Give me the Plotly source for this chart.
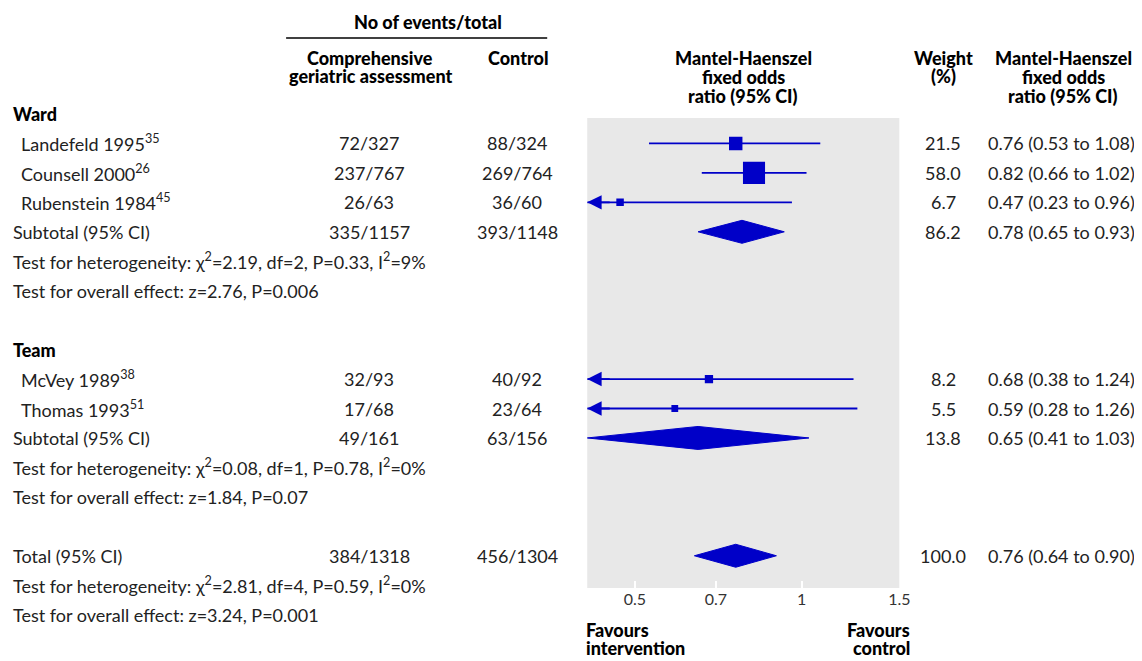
import numpy as np
import plotly.graph_objects as go

# row index of each line in the table (0 = "Ward" header)
group_labels = ["Ward", "Team"]
group_rows = [0, 8]

study_labels = ["Landefeld 1995<sup>35</sup>", "Counsell 2000<sup>26</sup>",
                "Rubenstein 1984<sup>45</sup>", "McVey 1989<sup>38</sup>",
                "Thomas 1993<sup>51</sup>"]
study_rows = [1, 2, 3, 9, 10]
study_cga = ["72/327", "237/767", "26/63", "32/93", "17/68"]
study_control = ["88/324", "269/764", "36/60", "40/92", "23/64"]
study_weight = [21.5, 58.0, 6.7, 8.2, 5.5]
study_or = [0.76, 0.82, 0.47, 0.68, 0.59]
study_lo = [0.53, 0.66, 0.23, 0.38, 0.28]
study_hi = [1.08, 1.02, 0.96, 1.24, 1.26]

pooled_labels = ["Subtotal (95% CI)", "Subtotal (95% CI)", "Total (95% CI)"]
pooled_rows = [4, 11, 15]
pooled_cga = ["335/1157", "49/161", "384/1318"]
pooled_control = ["393/1148", "63/156", "456/1304"]
pooled_weight = [86.2, 13.8, 100.0]
pooled_or = [0.78, 0.65, 0.76]
pooled_lo = [0.65, 0.41, 0.64]
pooled_hi = [0.93, 1.03, 0.90]

het_rows = [5, 12, 16]
het_chi2 = ["2.19", "0.08", "2.81"]
het_df = [2, 1, 4]
het_p = ["0.33", "0.78", "0.59"]
het_i2 = ["9", "0", "0"]

effect_rows = [6, 13, 17]
effect_z = ["2.76", "1.84", "3.24"]
effect_p = ["0.006", "0.07", "0.001"]

tick_vals = [0.5, 0.7, 1, 1.5]
tick_text = ["0.5", "0.7", "1", "1.5"]
x_min, x_max = 0.41, 1.5
null_value = 1

BLUE = "#0000c8"
TXT = "#222222"
FONT = "Lato"
W, H = 1142, 661

# page placement of the figure (body margin etc.), measured from a test render
X0, XS, Y0 = 9, 0.99, 8

# target page pixels of the layout
ROW0, ROW_PX = 114, 29.45
PLOT_TOP, PLOT_BOTTOM = 118, 588
PLOT_LEFT, PLOT_RIGHT = 588, 900

fig = go.Figure()


def px_x(p):
    return ((p - X0) / XS) / W


def px_y(p):
    return 1 - (p - Y0) / H


def row_at(p):
    return (p - ROW0) / ROW_PX


# grey panel and line of no effect
fig.add_shape(type="rect", xref="x domain", yref="y", x0=0, x1=1,
              y0=row_at(PLOT_TOP), y1=row_at(PLOT_BOTTOM),
              fillcolor="#e8e8e8", line=dict(width=0), layer="below")
fig.add_shape(type="line", xref="x", yref="y", x0=np.log10(null_value),
              x1=np.log10(null_value), y0=row_at(PLOT_TOP), y1=row_at(PLOT_BOTTOM),
              line=dict(color=BLUE, width=1.2))

# confidence interval lines, clipped to the axis range
for r, lo, hi in zip(study_rows, study_lo, study_hi):
    fig.add_trace(go.Scatter(x=[max(lo, x_min), min(hi, x_max)], y=[r, r], mode="lines",
                             line=dict(color=BLUE, width=1.8), hoverinfo="skip"))
    if lo < x_min:
        fig.add_annotation(x=np.log10(x_min), y=r, xref="x", yref="y", ax=24, ay=0,
                           text="", showarrow=True, arrowhead=2, arrowsize=1.6,
                           arrowwidth=1.8, arrowcolor=BLUE)

# study squares, size from weight
fig.add_trace(go.Scatter(x=study_or, y=study_rows, mode="markers",
                         marker=dict(symbol="square", color=BLUE, opacity=1,
                                     size=[2.9 * np.sqrt(w) for w in study_weight],
                                     line=dict(width=0)),
                         hoverinfo="x"))

# pooled diamonds
half = 0.39
for r, est, lo, hi in zip(pooled_rows, pooled_or, pooled_lo, pooled_hi):
    fig.add_trace(go.Scatter(x=[lo, est, hi, est, lo], y=[r, r - half, r, r + half, r],
                             mode="lines", fill="toself", fillcolor=BLUE,
                             line=dict(color=BLUE, width=1), hoverinfo="skip"))


def txt(x, y, text, anchor="center", bold=False, yref="y", size=18, color=TXT):
    fig.add_annotation(x=x, y=y, xref="paper", yref=yref, text=text, showarrow=False,
                       xanchor=anchor, yanchor="middle", align=anchor,
                       font=dict(family=FONT, size=size, color=color,
                                 weight=900 if bold else "normal"))


def head(x, ys, lines, anchor="center"):
    for y, line in zip(ys, lines):
        txt(px_x(x), px_y(y), line, anchor, bold=True, yref="paper", color="black")


LABEL_X = px_x(12)
INDENT_X = px_x(20)
CGA_X = px_x(370)
CTRL_X = px_x(518)
WEIGHT_X = px_x(944)
OR_X = px_x(987)

for r, lab in zip(group_rows, group_labels):
    txt(LABEL_X, r, lab, "left", bold=True, color="black")

for i, r in enumerate(study_rows):
    txt(INDENT_X, r, study_labels[i], "left")
    txt(CGA_X, r, study_cga[i])
    txt(CTRL_X, r, study_control[i])
    txt(WEIGHT_X, r, f"{study_weight[i]:.1f}")
    txt(OR_X, r, f"{study_or[i]:.2f} ({study_lo[i]:.2f} to {study_hi[i]:.2f})", "left")

for i, r in enumerate(pooled_rows):
    txt(LABEL_X, r, pooled_labels[i], "left")
    txt(CGA_X, r, pooled_cga[i])
    txt(CTRL_X, r, pooled_control[i])
    txt(WEIGHT_X, r, f"{pooled_weight[i]:.1f}")
    txt(OR_X, r, f"{pooled_or[i]:.2f} ({pooled_lo[i]:.2f} to {pooled_hi[i]:.2f})", "left")

for i, r in enumerate(het_rows):
    txt(LABEL_X, r, f"Test for heterogeneity: χ<sup>2</sup>={het_chi2[i]}, df={het_df[i]}, "
                    f"P={het_p[i]}, I<sup>2</sup>={het_i2[i]}%", "left")

for i, r in enumerate(effect_rows):
    txt(LABEL_X, r, f"Test for overall effect: z={effect_z[i]}, P={effect_p[i]}", "left")

# column headers
head(429, [22], ["No of events/total"])
fig.add_shape(type="line", xref="paper", yref="paper", x0=px_x(287), x1=px_x(548),
              y0=px_y(38), y1=px_y(38), line=dict(color="black", width=1.5))
head(371, [58, 76], ["Comprehensive", "geriatric assessment"])
head(519, [58], ["Control"])
head(744, [58, 77, 96], ["Mantel-Haenszel", "fixed odds", "ratio (95% CI)"])
head(944, [58, 76], ["Weight", "(%)"])
head(1064, [58, 77, 96], ["Mantel-Haenszel", "fixed odds", "ratio (95% CI)"])
head(585, [630, 648], ["Favours", "intervention"], "left")
head(913, [630, 648], ["Favours", "control"], "right")

fig.update_layout(
    width=W, height=H,
    margin=dict(l=0, r=0, t=0, b=0),
    paper_bgcolor="white",
    plot_bgcolor="white",
    showlegend=False,
    font=dict(family=FONT, color=TXT),
    xaxis=dict(type="log", domain=[px_x(PLOT_LEFT), px_x(PLOT_RIGHT)],
               range=[np.log10(x_min), np.log10(x_max)],
               anchor="free", position=px_y(PLOT_BOTTOM),
               tickvals=tick_vals, ticktext=tick_text, ticks="inside", ticklen=7,
               tickcolor="white", tickwidth=1.5, showgrid=False, zeroline=False,
               showline=False, tickfont=dict(size=16, color="#333333")),
    yaxis=dict(domain=[0, 1], range=[row_at(Y0 + H), row_at(Y0)],
               visible=False, showgrid=False, zeroline=False),
)

fig.write_html("out.html")
